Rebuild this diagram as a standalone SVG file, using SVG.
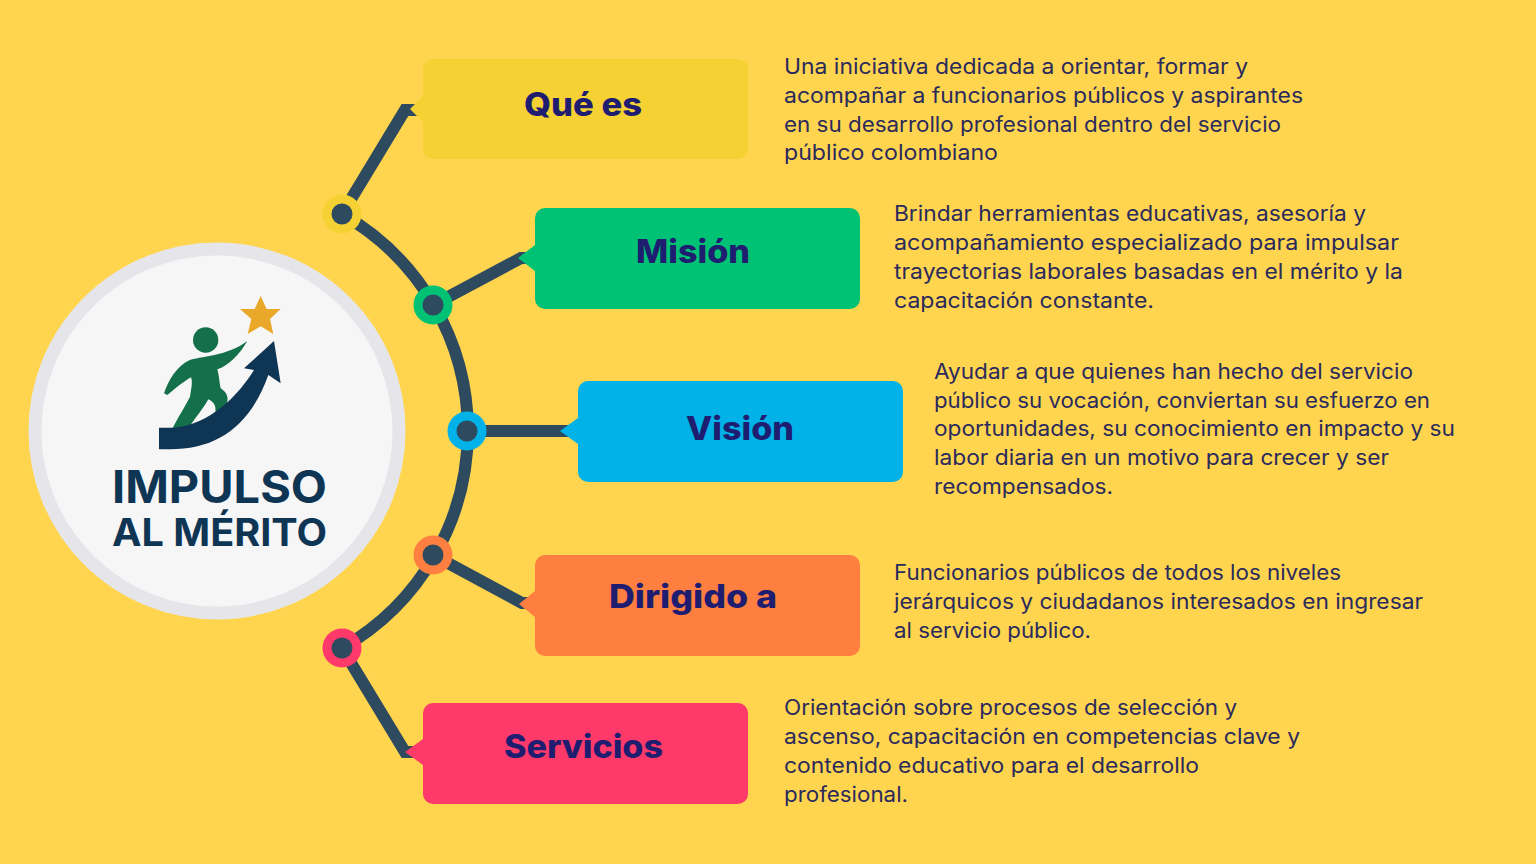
<svg xmlns="http://www.w3.org/2000/svg" width="1536" height="864" viewBox="0 0 1536 864">
<style>
.t{font-family:"Inter","Liberation Sans",sans-serif;font-weight:800;font-size:32px;fill:#1F1D70;text-anchor:start}
.d{font-family:"Inter","Liberation Sans",sans-serif;font-weight:400;font-size:21px;fill:#2B2A5C}
.l{font-family:"Inter","Liberation Sans",sans-serif;font-weight:700;fill:#0F3554}
.c{fill:none;stroke:#2E4A5F;stroke-width:12;stroke-linejoin:miter}
.i{fill:#2E4A5F}
</style>
<rect width="1536" height="864" fill="#FFD54F"/>
<g id="connectors">
<path class="c" d="M342 214A250 250 0 0 1 342 648"/>
<path class="c" d="M342 214L405 110H418M433 305L521 258H535M467 431L570 431M433 555L522 603H535M342 648L405 752H423"/>
</g>
<g id="center">
<circle cx="217" cy="431" r="182" fill="#F7F6F6" stroke="#E6E6EA" stroke-width="13"/>
<g transform="translate(20 240) scale(.33333)">
<path fill="#E9A829" d="M722 168L740 207L782 207L750 237L760 282L722 259L683 282L694 237L660 207L704 207Z"/>
<circle cx="557" cy="300" r="38" fill="#14704A"/>
<path fill="#14704A" d="M682 303C660 342 625 378 592 388C598 410 598 430 602 445C625 460 630 480 612 512L585 530C590 500 585 488 565 478C550 505 525 535 505 565L455 570C475 530 495 500 510 470C515 440 518 425 513 412C490 425 460 450 442 465L432 460C445 420 470 380 505 362C540 348 620 350 682 303Z"/>
<path fill="#0F3554" d="M417 563L450 563C545 563 640 490 702 390L672 385L762 303L782 430L745 405C690 560 590 628 450 628L417 628Z"/>
</g>
<text class="l" x="112" y="503" font-size="45" textLength="215" lengthAdjust="spacingAndGlyphs">IMPULSO</text>
<text class="l" x="112" y="546" font-size="38" textLength="215" lengthAdjust="spacingAndGlyphs">AL MÉRITO</text>
</g>
<g id="node-que-es">
<path fill="#F5D133" d="M433 59H738a10 10 0 0 1 10 10V149a10 10 0 0 1-10 10H433a10 10 0 0 1-10-10V122L410 109L423 96V69a10 10 0 0 1 10-10Z"/>
<circle cx="342" cy="214" r="19.5" fill="#F5D133"/><circle cx="342" cy="214" r="10.5" class="i"/>
<text class="t" x="524" y="116" textLength="118" lengthAdjust="spacingAndGlyphs">Qué es</text>
<text class="d" x="784" y="74" textLength="464" lengthAdjust="spacingAndGlyphs">Una iniciativa dedicada a orientar, formar y</text>
<text class="d" x="784" y="103" textLength="519" lengthAdjust="spacingAndGlyphs">acompañar a funcionarios públicos y aspirantes</text>
<text class="d" x="784" y="132" textLength="497" lengthAdjust="spacingAndGlyphs">en su desarrollo profesional dentro del servicio</text>
<text class="d" x="784" y="160" textLength="214" lengthAdjust="spacingAndGlyphs">público colombiano</text>
</g>
<g id="node-mision">
<path fill="#00C275" d="M545 208H850a10 10 0 0 1 10 10V299a10 10 0 0 1-10 10H545a10 10 0 0 1-10-10V271L518 258L535 245V218a10 10 0 0 1 10-10Z"/>
<circle cx="433" cy="305" r="19.5" fill="#00C275"/><circle cx="433" cy="305" r="10.5" class="i"/>
<text class="t" x="636" y="263" textLength="114" lengthAdjust="spacingAndGlyphs">Misión</text>
<text class="d" x="894" y="221" textLength="472" lengthAdjust="spacingAndGlyphs">Brindar herramientas educativas, asesoría y</text>
<text class="d" x="894" y="250" textLength="505" lengthAdjust="spacingAndGlyphs">acompañamiento especializado para impulsar</text>
<text class="d" x="894" y="279" textLength="509" lengthAdjust="spacingAndGlyphs">trayectorias laborales basadas en el mérito y la</text>
<text class="d" x="894" y="308" textLength="260" lengthAdjust="spacingAndGlyphs">capacitación constante.</text>
</g>
<g id="node-vision">
<path fill="#00B2E8" d="M588 381H893a10 10 0 0 1 10 10V472a10 10 0 0 1-10 10H588a10 10 0 0 1-10-10V444L560 431L578 418V391a10 10 0 0 1 10-10Z"/>
<circle cx="467" cy="431" r="19.5" fill="#00B2E8"/><circle cx="467" cy="431" r="10.5" class="i"/>
<text class="t" x="686" y="440" textLength="108" lengthAdjust="spacingAndGlyphs">Visión</text>
<text class="d" x="934" y="379" textLength="479" lengthAdjust="spacingAndGlyphs">Ayudar a que quienes han hecho del servicio</text>
<text class="d" x="934" y="408" textLength="496" lengthAdjust="spacingAndGlyphs">público su vocación, conviertan su esfuerzo en</text>
<text class="d" x="934" y="436" textLength="521" lengthAdjust="spacingAndGlyphs">oportunidades, su conocimiento en impacto y su</text>
<text class="d" x="934" y="465" textLength="455" lengthAdjust="spacingAndGlyphs">labor diaria en un motivo para crecer y ser</text>
<text class="d" x="934" y="494" textLength="179" lengthAdjust="spacingAndGlyphs">recompensados.</text>
</g>
<g id="node-dirigido">
<path fill="#FF7F40" d="M545 555H850a10 10 0 0 1 10 10V646a10 10 0 0 1-10 10H545a10 10 0 0 1-10-10V617L519 604L535 591V565a10 10 0 0 1 10-10Z"/>
<circle cx="433" cy="555" r="19.5" fill="#FF7F40"/><circle cx="433" cy="555" r="10.5" class="i"/>
<text class="t" x="609" y="608" textLength="168" lengthAdjust="spacingAndGlyphs">Dirigido a</text>
<text class="d" x="894" y="580" textLength="447" lengthAdjust="spacingAndGlyphs">Funcionarios públicos de todos los niveles</text>
<text class="d" x="894" y="609" textLength="529" lengthAdjust="spacingAndGlyphs">jerárquicos y ciudadanos interesados en ingresar</text>
<text class="d" x="894" y="638" textLength="197" lengthAdjust="spacingAndGlyphs">al servicio público.</text>
</g>
<g id="node-servicios">
<path fill="#FF3A6A" d="M433 703H738a10 10 0 0 1 10 10V794a10 10 0 0 1-10 10H433a10 10 0 0 1-10-10V765L405 752L423 739V713a10 10 0 0 1 10-10Z"/>
<circle cx="342" cy="648" r="19.5" fill="#FF3A6A"/><circle cx="342" cy="648" r="10.5" class="i"/>
<text class="t" x="504" y="758" textLength="159" lengthAdjust="spacingAndGlyphs">Servicios</text>
<text class="d" x="784" y="715" textLength="453" lengthAdjust="spacingAndGlyphs">Orientación sobre procesos de selección y</text>
<text class="d" x="784" y="744" textLength="516" lengthAdjust="spacingAndGlyphs">ascenso, capacitación en competencias clave y</text>
<text class="d" x="784" y="773" textLength="415" lengthAdjust="spacingAndGlyphs">contenido educativo para el desarrollo</text>
<text class="d" x="784" y="802" textLength="124" lengthAdjust="spacingAndGlyphs">profesional.</text>
</g>
</svg>
